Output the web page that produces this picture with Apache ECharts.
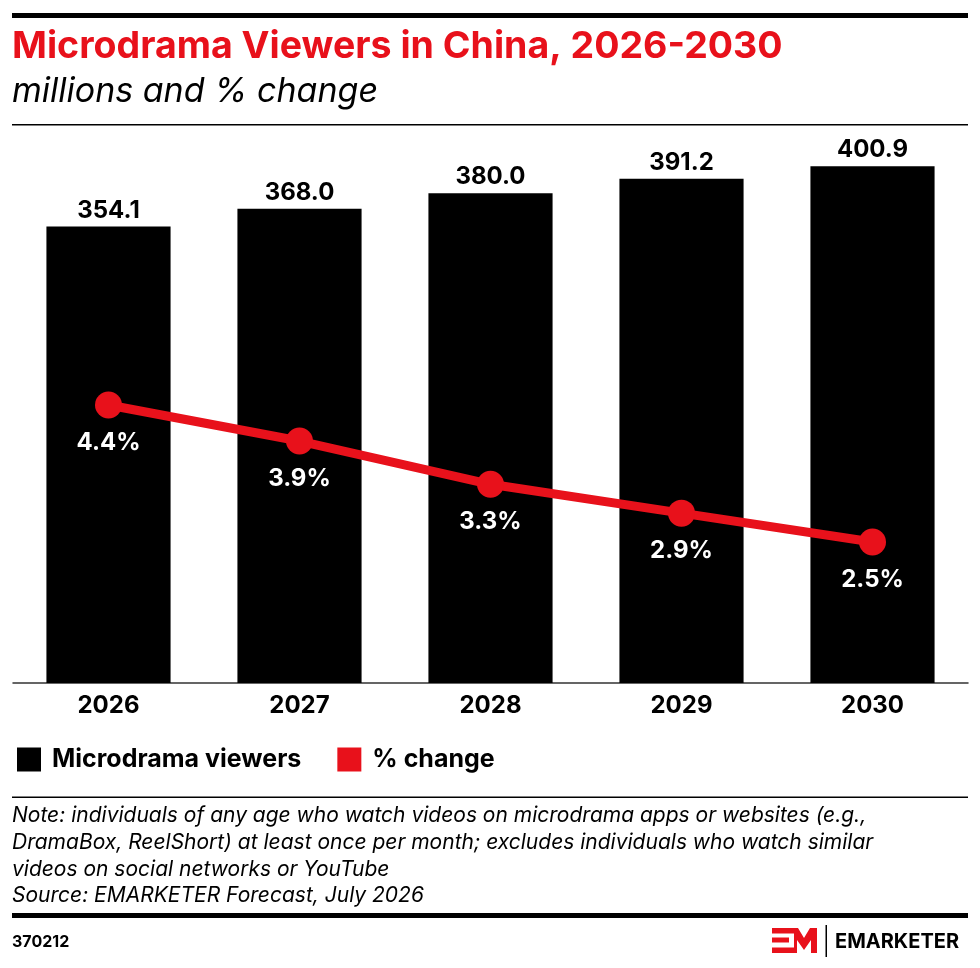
<!DOCTYPE html>
<html>
<head>
<meta charset="utf-8">
<script src="https://cdn.jsdelivr.net/npm/echarts@6/dist/echarts.min.js"></script>
<style>
  html, body { margin: 0; padding: 0; background: #fff; }
  #main { width: 980px; height: 968px; }
</style>
</head>
<body>
<div id="main"></div>
<script>
// data
var years = ['2026', '2027', '2028', '2029', '2030'];
var viewers = [354.1, 368.0, 380.0, 391.2, 400.9];
var pctChange = [4.4, 3.9, 3.3, 2.9, 2.5];

var RED = '#e8111b';
var FONT = 'Inter, "Noto Sans", sans-serif';

var noteLines = [
  'Note: individuals of any age who watch videos on microdrama apps or websites (e.g.,',
  'DramaBox, ReelShort) at least once per month; excludes individuals who watch similar',
  'videos on social networks or YouTube',
  'Source: EMARKETER Forecast, July 2026'
];

var chart = echarts.init(document.getElementById('main'));

// text helper, y is the vertical middle of the line
function txt(x, y, text, font, fill) {
  return { type: 'text', x: x, y: y, style: { text: text, font: font, fill: fill || '#000', verticalAlign: 'middle', align: 'left' } };
}
function rect(x, y, w, h, fill) {
  return { type: 'rect', shape: { x: x, y: y, width: w, height: h }, style: { fill: fill || '#000' } };
}

var graphics = [
  rect(12, 13, 956, 5),
  txt(12, 47, 'Microdrama Viewers in China, 2026-2030', 'bold 37.5px ' + FONT, RED),
  txt(12, 92, 'millions and % change', 'italic 34px ' + FONT),
  rect(12, 124, 956, 1.5),
  // footer
  rect(12, 796.5, 956, 1.5),
  rect(12, 913, 956, 5),
  txt(12, 942, '370212', 'bold 16px ' + FONT),
  // logo mark
  rect(772, 928, 22, 5.5, RED),
  rect(772, 937.5, 17, 5, RED),
  rect(772, 947.5, 22, 5.5, RED),
  { type: 'polygon', shape: { points: [[790, 928], [798, 928], [804, 938], [810, 928], [817, 928], [817, 953], [811, 953], [811, 940], [804, 950], [797, 940], [797, 953], [794, 953], [794, 933], [790, 933]] }, style: { fill: RED } },
  rect(825.5, 925, 1.5, 32),
  txt(835, 942, 'EMARKETER', 'bold 20px ' + FONT)
];
noteLines.forEach(function (t, i) {
  graphics.push(txt(12, 816 + i * 26.7, t, 'italic 21px ' + FONT));
});

chart.setOption({
  animation: false,
  textStyle: { fontFamily: FONT },
  graphic: graphics,
  grid: { left: 13, right: 12, top: 141.6, bottom: 285 },
  legend: {
    left: 12, top: 742,
    icon: 'rect', itemWidth: 24, itemHeight: 24, itemGap: 36,
    textStyle: { fontSize: 25, fontWeight: 'bold', color: '#000', padding: [0, 0, 0, 6] },
    data: [
      { name: 'Microdrama viewers', itemStyle: { color: '#000' } },
      { name: '% change', itemStyle: { color: RED } }
    ]
  },
  xAxis: {
    type: 'category',
    data: years,
    axisLine: { lineStyle: { color: '#333', width: 1.5 } },
    axisTick: { show: false },
    axisLabel: { fontSize: 24, fontWeight: 'bold', color: '#000', margin: 11 }
  },
  yAxis: [
    { type: 'value', min: 0, max: 420, show: false, splitLine: { show: false } },
    { type: 'value', min: 0.544, max: 8.053, show: false, splitLine: { show: false } }
  ],
  series: [
    {
      name: 'Microdrama viewers',
      type: 'bar',
      data: viewers,
      barWidth: '65%',
      itemStyle: { color: '#000' },
      label: {
        show: true, position: 'top', distance: 4,
        fontSize: 24, fontWeight: 'bold', color: '#000',
        formatter: function (p) { return p.value.toFixed(1); }
      }
    },
    {
      name: '% change',
      type: 'line',
      yAxisIndex: 1,
      data: pctChange,
      symbol: 'circle',
      symbolSize: 27,
      lineStyle: { color: RED, width: 9 },
      itemStyle: { color: RED },
      label: {
        show: true, position: 'bottom', distance: 12,
        fontSize: 24, fontWeight: 'bold', color: '#fff',
        formatter: function (p) { return p.value.toFixed(1) + '%'; }
      },
      z: 5
    }
  ]
});
</script>
</body>
</html>
